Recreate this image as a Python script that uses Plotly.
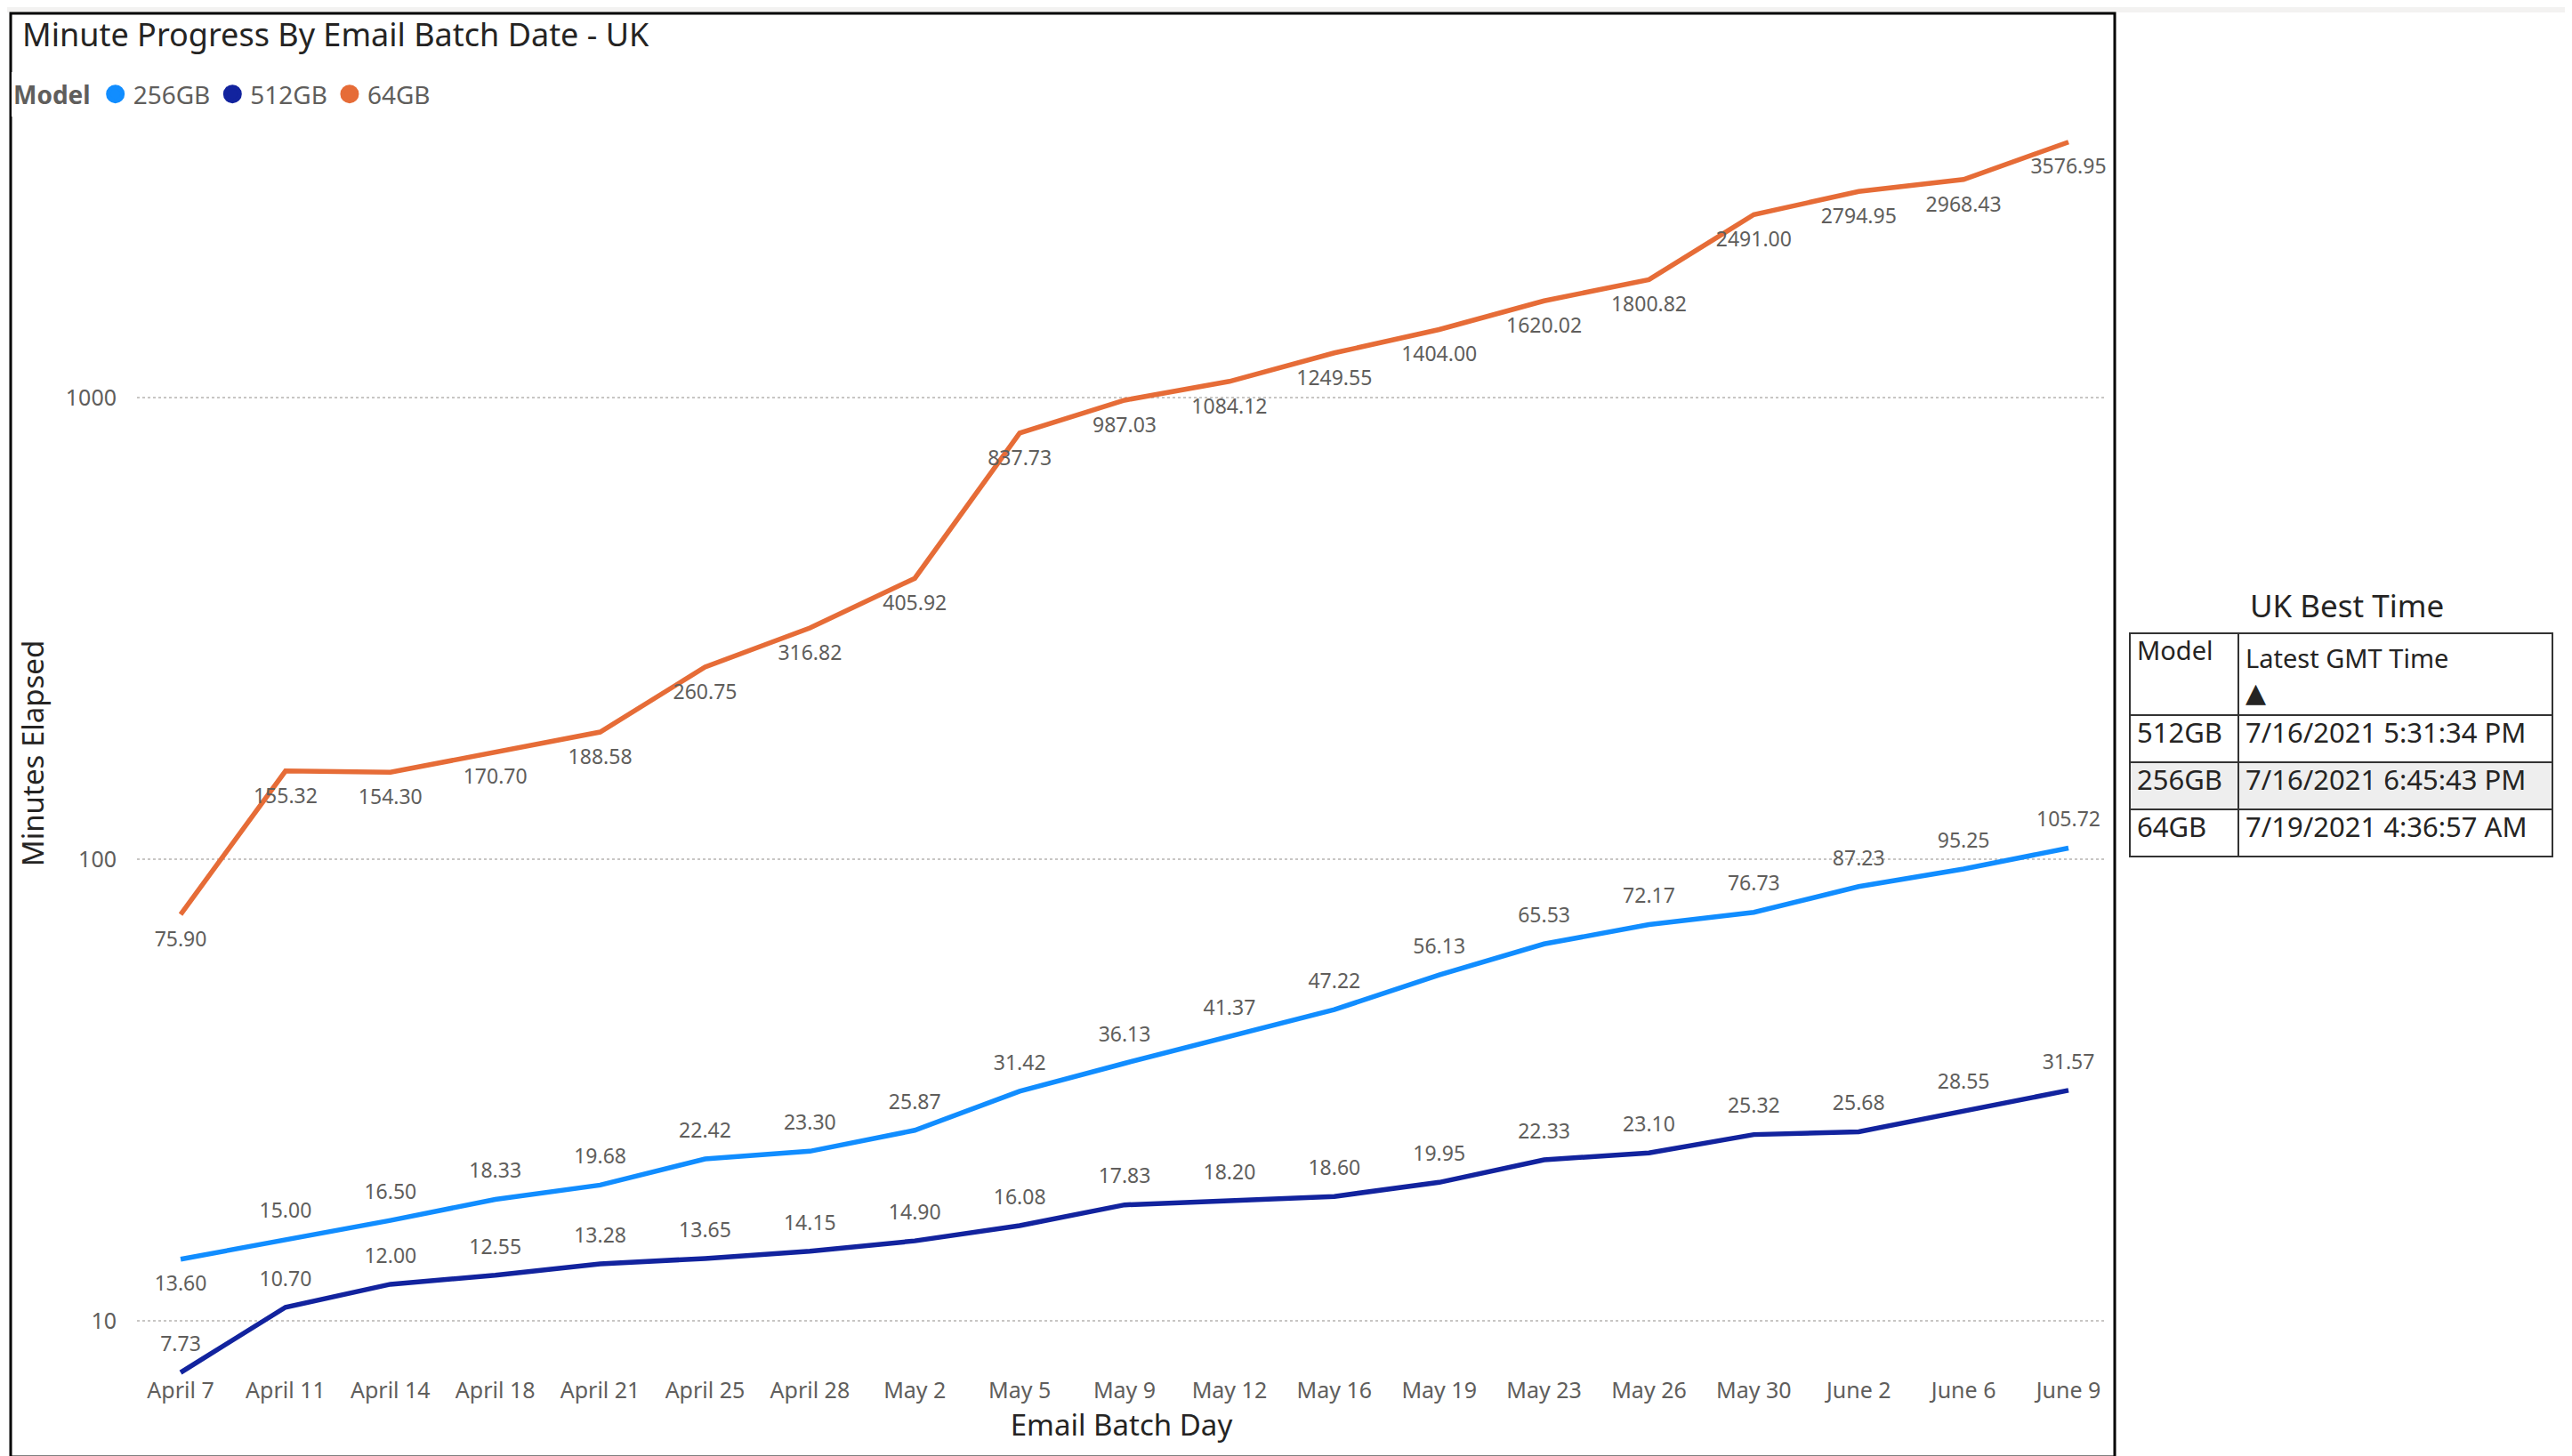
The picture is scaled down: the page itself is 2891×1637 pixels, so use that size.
import plotly.graph_objects as go

days = ["April 7", "April 11", "April 14", "April 18", "April 21", "April 25", "April 28",
        "May 2", "May 5", "May 9", "May 12", "May 16", "May 19", "May 23", "May 26",
        "May 30", "June 2", "June 6", "June 9"]
gb256 = [13.60, 15.00, 16.50, 18.33, 19.68, 22.42, 23.30, 25.87, 31.42, 36.13, 41.37,
         47.22, 56.13, 65.53, 72.17, 76.73, 87.23, 95.25, 105.72]
gb512 = [7.73, 10.70, 12.00, 12.55, 13.28, 13.65, 14.15, 14.90, 16.08, 17.83, 18.20,
         18.60, 19.95, 22.33, 23.10, 25.32, 25.68, 28.55, 31.57]
gb64 = [75.90, 155.32, 154.30, 170.70, 188.58, 260.75, 316.82, 405.92, 837.73, 987.03,
        1084.12, 1249.55, 1404.00, 1620.02, 1800.82, 2491.00, 2794.95, 2968.43, 3576.95]
y_ticks = [10, 100, 1000]

table_models = ["512GB", "256GB", "64GB"]
table_times = ["7/16/2021 5:31:34 PM", "7/16/2021 6:45:43 PM", "7/19/2021 4:36:57 AM"]

W, H = 2891, 1637
font = "Noto Sans, Open Sans, sans-serif"
grey = "#605E5C"
dark = "#252423"

series = [
    ("256GB", gb256, "#118DFF", ["bottom center"] + ["top center"] * 18),
    ("512GB", gb512, "#12239E", ["top center"] * 19),
    ("64GB", gb64, "#E66C37", ["bottom center"] * 19),
]

fig = go.Figure()
for name, vals, col, pos in series:
    fig.add_trace(go.Scatter(
        x=days, y=vals, name=name, mode="lines+markers+text",
        line=dict(color=col, width=5.5),
        marker=dict(size=28, opacity=0),
        texttemplate="%{y:.2f}", textposition=pos,
        textfont=dict(size=23, color=grey, family=font),
        showlegend=False, cliponaxis=False))

# legend entries as plain dots, like the report
for name, vals, col, pos in series:
    fig.add_trace(go.Scatter(x=[None], y=[None], name=name, mode="markers",
                             marker=dict(size=16, color=col, line=dict(color=col, width=5))))

sort_arrow = "<span style='font-family:DejaVu Sans;font-size:30px'>▲</span>"
fig.add_trace(go.Table(
    domain=dict(x=[2386 / W, 2861 / W], y=[1 - 960 / H, 1 - 704 / H]),
    columnwidth=[122, 353],
    header=dict(values=["Model", "Latest GMT Time<br>" + sort_arrow],
                align="left", height=66,
                font=dict(size=29, color=dark, family=font),
                fill_color="white", line=dict(color="#333333", width=2)),
    cells=dict(values=[table_models, table_times],
               align="left", height=53,
               font=dict(size=31, color=dark, family=font),
               fill_color=[["white", "#EEEEEE", "white"]] * 2,
               line=dict(color="#333333", width=2)),
))

fig.update_layout(
    width=W, height=H,
    margin=dict(l=0, r=0, t=0, b=0),
    paper_bgcolor="white", plot_bgcolor="white",
    font=dict(family=font, color=grey),
    title=dict(text="Minute Progress By Email Batch Date - UK",
               x=17 / W, xanchor="left", y=1 - 31 / H, yanchor="middle",
               font=dict(size=36, color=dark, family=font)),
    legend=dict(orientation="h", x=5 / W, xanchor="left", y=1 - 98 / H, yanchor="middle",
                title=dict(text="<b>Model</b>", font=dict(size=28, color=grey)),
                font=dict(size=28, color=grey), itemwidth=30, tracegroupgap=0),
    xaxis=dict(type="category", domain=[146 / W, 2359 / W], range=[-0.416, 18.356],
               showgrid=False, showline=False, ticks="",
               tickfont=dict(size=25, color=grey),
               title=dict(text="Email Batch Day", standoff=12,
                          font=dict(size=33, color=dark))),
    yaxis=dict(type="log", domain=[1 - 1538 / H, 1 - 140 / H], range=[0.8825, 3.5761],
               tickvals=y_ticks, ticktext=[str(v) for v in y_ticks],
               showgrid=True, gridcolor="#C8C6C4", griddash="dot", gridwidth=2,
               zeroline=False, showline=False, ticks="", ticklabelstandoff=22,
               tickfont=dict(size=25, color=grey),
               title=dict(text="Minutes Elapsed", standoff=14,
                          font=dict(size=33, color=dark))),
    annotations=[dict(text="UK Best Time", x=2630 / W, y=1 - 672 / H, xref="paper", yref="paper",
                      showarrow=False, xanchor="center", yanchor="middle",
                      font=dict(size=35, color=dark, family=font))],
    shapes=[
        dict(type="rect", xref="paper", yref="paper", x0=0, x1=1, y0=1 - 6 / H, y1=1,
             fillcolor="#F3F2F1", line=dict(width=0), layer="below"),
        dict(type="rect", xref="paper", yref="paper", x0=4 / W, x1=2369 / W,
             y0=1 - 1630 / H, y1=1 - 7 / H, line=dict(color="black", width=3)),
        dict(type="line", xref="paper", yref="paper", x0=2888 / W, x1=2888 / W,
             y0=0, y1=1 - 8 / H, line=dict(color="#888888", width=2, dash="dot")),
        dict(type="line", xref="paper", yref="paper", x0=0, x1=1,
             y0=1 - 1634 / H, y1=1 - 1634 / H, line=dict(color="#888888", width=3, dash="dot")),
    ],
)

fig.write_html("out.html")
